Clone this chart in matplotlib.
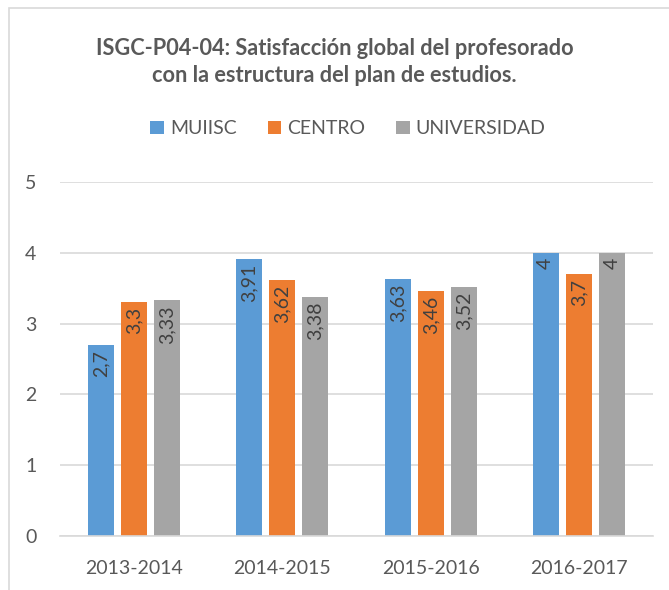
import numpy as np
import matplotlib.pyplot as plt
from matplotlib.patches import Rectangle

years = ['2013-2014', '2014-2015', '2015-2016', '2016-2017']
muiisc = [2.7, 3.91, 3.63, 4]
centro = [3.3, 3.62, 3.46, 3.7]
universidad = [3.33, 3.38, 3.52, 4]
series = ['MUIISC', 'CENTRO', 'UNIVERSIDAD']
colors = ['#5b9bd5', '#ed7d31', '#a5a5a5']

plt.rcParams['font.family'] = ['Lato', 'DejaVu Sans']

fig = plt.figure(figsize=(6.69, 5.90), dpi=100)
fig.patches.append(Rectangle((0.013, -0.01), 1.0, 0.997, transform=fig.transFigure,
                             fill=False, edgecolor='#d9d9d9', linewidth=1.2))
ax = fig.add_axes([0.0897, 0.0915, 0.8863, 0.600])

x = np.arange(len(years))
w = 0.175
step = 0.223
for i, (vals, name, c) in enumerate(zip([muiisc, centro, universidad], series, colors)):
    pos = x + (i - 1) * step
    ax.bar(pos, vals, width=w, color=c, label=name, zorder=2)
    for p, v in zip(pos, vals):
        ax.text(p, v - 0.07, ('%g' % v).replace('.', ','), rotation=90, ha='center', va='top',
                fontsize=14, color='#404040', zorder=3)

ax.set_ylim(0, 5)
ax.set_xlim(-0.5, 3.5)
ax.set_yticks(range(6))
ax.set_xticks(x)
ax.set_xticklabels(years)
ax.tick_params(length=0, labelsize=14, labelcolor='#595959')
ax.tick_params(axis='y', pad=17)
ax.tick_params(axis='x', pad=17)
ax.grid(axis='y', color='#d9d9d9', linewidth=1.2, zorder=0)
for s in ['top', 'right', 'left']:
    ax.spines[s].set_visible(False)
ax.spines['bottom'].set_color('#d9d9d9')
ax.spines['bottom'].set_linewidth(1.2)

fig.text(0.5, 0.895, 'ISGC-P04-04: Satisfacción global del profesorado\ncon la estructura del plan de estudios.',
         ha='center', va='center', fontsize=15.7, fontweight='bold', color='#595959', linespacing=1.35)
leg = fig.legend(loc='center', bbox_to_anchor=(0.52, 0.782), ncol=3, frameon=False, fontsize=14,
                 handlelength=0.7, handleheight=0.7, handletextpad=0.3, columnspacing=1.6)
for t in leg.get_texts():
    t.set_color('#595959')

fig.savefig('out.png')
